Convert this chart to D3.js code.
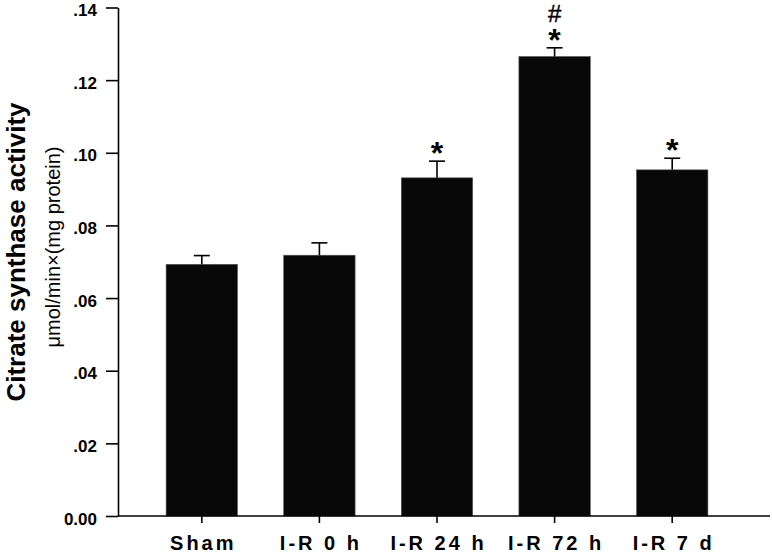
<!DOCTYPE html>
<html>
<head>
<meta charset="utf-8">
<script src="https://cdn.jsdelivr.net/npm/d3@7"></script>
<style>
  body { margin: 0; background: #fff; }
  svg { display: block; font-family: "Liberation Sans", Arial, Helvetica, sans-serif; }
</style>
</head>
<body>
<svg id="chart" width="772" height="554"></svg>
<script>
// data
const groups = ['Sham', 'I-R 0 h', 'I-R 24 h', 'I-R 72 h', 'I-R 7 d'];
const meanActivity = [0.0693, 0.0718, 0.0931, 0.1265, 0.0953];
const semActivity = [0.0024, 0.0034, 0.0046, 0.0024, 0.0032];
const starMarks = ['', '', '*', '*', '*'];
const hashMarks = ['', '', '', '#', ''];
const yTicks = [0, 0.02, 0.04, 0.06, 0.08, 0.10, 0.12, 0.14];
const yTickLabels = ['0.00', '.02', '.04', '.06', '.08', '.10', '.12', '.14'];

const width = 772;
const axisX = 118;
const baseY = 516;

const rows = groups.map((g, i) => ({
  group: g,
  mean: meanActivity[i],
  sem: semActivity[i],
  star: starMarks[i],
  hash: hashMarks[i]
}));

const svg = d3.select('#chart');

const yScale = d3.scaleLinear()
  .domain([0, 0.14])
  .range([baseY, 7.5]);

const xScale = d3.scaleBand()
  .domain(groups)
  .range([143, 731])
  .paddingInner(0.393)
  .paddingOuter(0.1965);

// bars
svg.append('g')
  .selectAll('rect')
  .data(rows)
  .enter()
  .append('rect')
  .attr('x', d => xScale(d.group))
  .attr('y', d => yScale(d.mean))
  .attr('width', xScale.bandwidth())
  .attr('height', d => baseY - yScale(d.mean))
  .attr('fill', '#080808')
  .attr('stroke', '#555')
  .attr('stroke-width', 0.6);

// error bars (upper only)
const cx = d => xScale(d.group) + xScale.bandwidth() / 2;
const err = svg.append('g')
  .attr('stroke', '#000')
  .attr('stroke-width', 1.6);

err.selectAll('line.stem')
  .data(rows)
  .enter()
  .append('line')
  .attr('class', 'stem')
  .attr('x1', cx)
  .attr('x2', cx)
  .attr('y1', d => yScale(d.mean))
  .attr('y2', d => yScale(d.mean + d.sem));

err.selectAll('line.cap')
  .data(rows)
  .enter()
  .append('line')
  .attr('class', 'cap')
  .attr('x1', d => cx(d) - 8)
  .attr('x2', d => cx(d) + 8)
  .attr('y1', d => yScale(d.mean + d.sem))
  .attr('y2', d => yScale(d.mean + d.sem));

// significance marks: one text per bar, # stacked over *
const marks = svg.append('g')
  .selectAll('text')
  .data(rows.filter(d => d.star || d.hash))
  .enter()
  .append('text')
  .attr('text-anchor', 'middle');

marks.filter(d => d.hash)
  .append('tspan')
  .attr('x', cx)
  .attr('y', d => yScale(d.mean + d.sem) - 26)
  .attr('font-size', '24px')
  .attr('stroke', '#000')
  .attr('stroke-width', 0.4)
  .text(d => d.hash);

marks.filter(d => d.star)
  .append('tspan')
  .attr('x', cx)
  .attr('y', d => yScale(d.mean + d.sem) + 3)
  .attr('font-size', '32px')
  .attr('font-weight', 'bold')
  .text(d => d.star);

// y axis
const yAxis = d3.axisLeft(yScale)
  .tickValues(yTicks)
  .tickFormat((d, i) => yTickLabels[i])
  .tickSize(12)
  .tickSizeOuter(0)
  .tickPadding(9);

const gy = svg.append('g')
  .attr('transform', `translate(${axisX},0)`)
  .call(yAxis);
gy.select('.domain').attr('stroke-width', 1.6);
gy.selectAll('.tick line').attr('stroke-width', 1.6);
gy.selectAll('.tick text')
  .attr('font-size', '17px')
  .attr('font-weight', 'bold')
  .attr('font-family', '"Liberation Sans", Arial, sans-serif')
  .attr('dy', '0.48em')
  .attr('fill', '#000');

// x axis
const xAxis = d3.axisBottom(xScale)
  .tickSize(7)
  .tickSizeOuter(0)
  .tickPadding(13);

const gx = svg.append('g')
  .attr('transform', `translate(0,${baseY})`)
  .call(xAxis);
gx.select('.domain').remove();
gx.selectAll('.tick line').attr('stroke-width', 1.6);
gx.selectAll('.tick text')
  .attr('font-size', '20px')
  .attr('font-weight', 'bold')
  .attr('font-family', '"Liberation Sans", Arial, sans-serif')
  .attr('letter-spacing', '3px')
  .attr('dx', '1.5')
  .attr('fill', '#000');

svg.append('line')
  .attr('x1', axisX)
  .attr('x2', width - 2)
  .attr('y1', baseY)
  .attr('y2', baseY)
  .attr('stroke', '#000')
  .attr('stroke-width', 1.6);

// axis titles
svg.append('text')
  .attr('transform', 'translate(25,252) rotate(-90)')
  .attr('text-anchor', 'middle')
  .attr('font-size', '26px')
  .attr('font-weight', 'bold')
  .text('Citrate synthase activity');

svg.append('text')
  .attr('transform', 'translate(60,247) rotate(-90)')
  .attr('text-anchor', 'middle')
  .attr('font-size', '20px')
  .text('μmol/min×(mg protein)');
</script>
</body>
</html>
